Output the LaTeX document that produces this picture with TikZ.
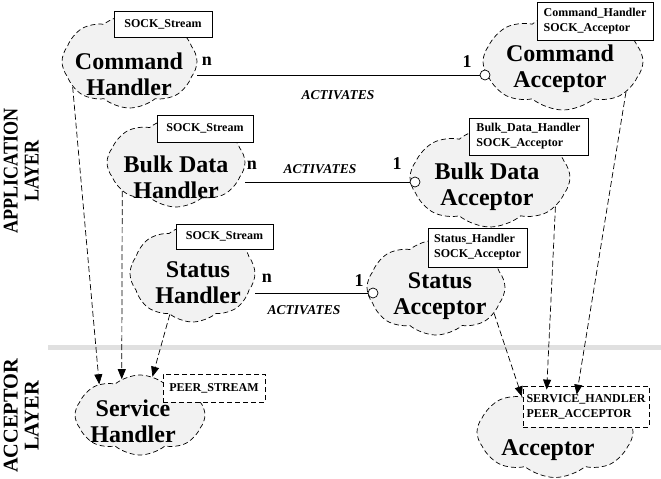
\documentclass[tikz,border=0pt]{standalone}
\usepackage{fontspec}
\setmainfont{Liberation Serif}
\usetikzlibrary{shapes.symbols,arrows.meta}
\definecolor{cloudfill}{gray}{0.95}
\definecolor{layerline}{gray}{0.88}
\begin{document}
\begin{tikzpicture}[x=1pt,y=-1pt,
    cloudy/.style={cloud, cloud puffs=8, cloud puff arc=80, cloud ignores aspect,
      draw, line width=0.7pt, dash pattern=on 5pt off 3pt, fill=cloudfill, inner sep=0pt},
    classname/.style={font=\bfseries\fontsize{24}{26}\selectfont, align=center},
    classbox/.style={draw, line width=0.8pt, fill=white, align=left, inner sep=2pt,
      font=\bfseries\fontsize{12}{15}\selectfont},
    tmplbox/.style={classbox, dash pattern=on 5pt off 3pt},
    mult/.style={font=\bfseries\fontsize{18}{20}\selectfont},
    relname/.style={font=\bfseries\itshape\fontsize{13.5}{15}\selectfont},
    layer/.style={rotate=90, inner sep=0pt, font=\bfseries\fontsize{21}{21}\selectfont},
    dep/.style={line width=0.7pt, dash pattern=on 6pt off 3pt, -{Triangle[length=10pt,width=8pt]}}]
  \useasboundingbox (0,0) rectangle (661,479);

  % layers
  \node[layer] (applayer) at (24,171)
    {\scalebox{0.86}[1]{\begin{tabular}{@{}c@{}}APPLICATION\\LAYER\end{tabular}}};
  \node[layer] (acclayer) at (24,416)
    {\scalebox{0.97}[1]{\begin{tabular}{@{}c@{}}ACCEPTOR\\LAYER\end{tabular}}};
  \draw[layerline, line width=5pt] (48,347) -- (661,347);

  % clouds
  \node[cloudy, minimum width=135pt, minimum height=93pt] (ch) at (129.5,61.5) {};
  \node[cloudy, minimum width=160pt, minimum height=97pt] (ca) at (563,61.5) {};
  \node[cloudy, minimum width=138pt, minimum height=89pt] (bh) at (176,162.5) {};
  \node[cloudy, minimum width=160pt, minimum height=99pt] (ba) at (490,177.5) {};
  \node[cloudy, minimum width=125pt, minimum height=97pt] (sth) at (192.5,273.5) {};
  \node[cloudy, minimum width=138pt, minimum height=95pt] (sta) at (436,287.5) {};
  \node[cloudy, minimum width=130pt, minimum height=80pt] (svh) at (140,415) {};
  \node[cloudy, minimum width=156pt, minimum height=91pt] (acc) at (555,432) {};

  % class names
  \node[classname] (chname) at (129,74) {Command\\Handler};
  \node[classname] (caname) at (560,69) {Command\\Acceptor};
  \node[classname] (bhname) at (176,177) {Bulk Data\\Handler};
  \node[classname] (baname) at (487,187) {Bulk Data\\Acceptor};
  \node[classname] (sthname) at (198,283) {Status\\Handler};
  \node[classname] (staname) at (440,296) {Status\\Acceptor};
  \node[classname] (svhname) at (133,421) {Service\\Handler};
  \node[classname] (accname) at (548,450) {Acceptor};

  % parameter boxes
  \node[classbox, minimum width=98pt, minimum height=26pt] (chbox) at (163,24) {SOCK\_Stream};
  \node[classbox, minimum width=116pt, minimum height=38pt] (cabox) at (595,21) {Command\_Handler\\SOCK\_Acceptor};
  \node[classbox, minimum width=96pt, minimum height=27pt] (bhbox) at (205,128.5) {SOCK\_Stream};
  \node[classbox, minimum width=119pt, minimum height=37pt] (babox) at (528.5,136.5) {Bulk\_Data\_Handler\\SOCK\_Acceptor};
  \node[classbox, minimum width=97pt, minimum height=25pt] (sthbox) at (224.5,236.5) {SOCK\_Stream};
  \node[classbox, minimum width=99pt, minimum height=39pt] (stabox) at (477.5,247.5) {Status\_Handler\\SOCK\_Acceptor};
  \node[tmplbox, minimum width=102pt, minimum height=28pt] (svhbox) at (214,388) {PEER\_STREAM};
  \node[tmplbox, minimum width=126pt, minimum height=41pt] (accbox) at (586,406.5) {SERVICE\_HANDLER\\PEER\_ACCEPTOR};

  % activates
  \node[draw, circle, fill=white, line width=0.7pt, minimum size=10pt, inner sep=0pt] (cadot) at (485,75) {};
  \node[draw, circle, fill=white, line width=0.7pt, minimum size=10pt, inner sep=0pt] (badot) at (415,182) {};
  \node[draw, circle, fill=white, line width=0.7pt, minimum size=10pt, inner sep=0pt] (stadot) at (373,293) {};
  \draw[line width=0.8pt] (cadot.west -| ch.east) -- (cadot.west);
  \draw[line width=0.8pt] (badot.west -| bh.east) -- (badot.west);
  \draw[line width=0.8pt] (stadot.west -| sth.east) -- (stadot.west);
  \node[mult] (chn) at (207,61) {n};
  \node[mult] (cone) at (467,62) {1};
  \node[relname] (cact) at (338,95) {ACTIVATES};
  \node[mult] (bhn) at (252,165) {n};
  \node[mult] (bone) at (397,164) {1};
  \node[relname] (bact) at (320,169) {ACTIVATES};
  \node[mult] (sthn) at (267,278) {n};
  \node[mult] (sone) at (359,281) {1};
  \node[relname] (sact) at (304,310) {ACTIVATES};

  % inheritance
  \begin{scope}[dep]
    \draw (ch.204) to (svh.143);
    \draw (bh.208) to (svh.117);
    \draw (sth.241) to (svh.72);
    \draw (sta.-24) to (acc.133);
    \draw (ba.-24) to ([yshift=-4pt]accbox.152);
    \draw (ca.-26) to ([yshift=-9pt]accbox.114);
  \end{scope}
\end{tikzpicture}
\end{document}
